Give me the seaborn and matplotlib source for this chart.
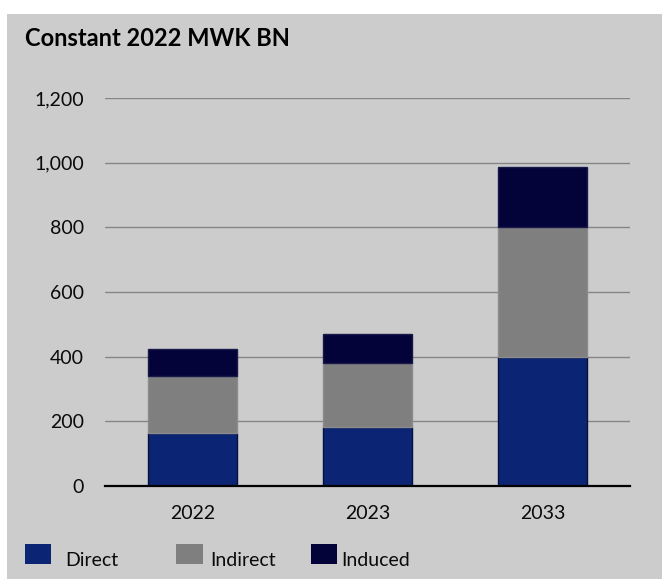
import matplotlib
matplotlib.use("Agg")
import matplotlib.pyplot as plt
import matplotlib.transforms as mtransforms
import seaborn as sns
import pandas as pd
import numpy as np
from matplotlib.patches import Rectangle, Patch

years = ["2022", "2023", "2033"]
direct = [163, 183, 399]
indirect = [177, 197, 401]
induced = [84, 91, 187]
series_names = ["Direct", "Indirect", "Induced"]
yticks = [0, 200, 400, 600, 800, 1000, 1200]
title = "Constant 2022 MWK BN"

colors = {"Direct": "#0b2473", "Indirect": "#7f7f7f", "Induced": "#03033a"}
edges = {"Direct": "#06103f", "Indirect": "#8c8c8c", "Induced": "#1a1a4a"}

sns.set_theme(style="white")
plt.rcParams["font.family"] = ["Lato", "DejaVu Sans"]

fig = plt.figure(figsize=(6.62, 5.79), dpi=100, facecolor="white")
fig.patches.append(Rectangle((7 / 662, 0), 1 - 7 / 662, 1 - 14 / 579,
                             transform=fig.transFigure, facecolor="#cccccc",
                             edgecolor="none", zorder=-10))

ax = fig.add_axes([105 / 662, 93 / 579, 525 / 662, 388 / 579])
ax.set_facecolor("none")

df = pd.DataFrame({"year": years, "Direct": direct, "Indirect": indirect, "Induced": induced})
bottoms = np.zeros(len(years))
for name in series_names:
    sns.barplot(data=df, x="year", y=name, ax=ax, color=colors[name],
                bottom=bottoms.copy(), width=0.51, edgecolor=edges[name],
                linewidth=1.0, saturation=1, zorder=3)
    bottoms = bottoms + df[name].to_numpy()

ax.set_xlim(-0.5, 2.5)
ax.set_ylim(0, 1200)
ax.set_yticks(yticks)
ax.set_yticklabels([f"{v:,}" for v in yticks], fontsize=14, color="#0a0a0a")
ax.yaxis.grid(True, color="#858585", linewidth=1.0, zorder=0)
ax.set_axisbelow(True)
for s in ["left", "right", "top"]:
    ax.spines[s].set_visible(False)
ax.spines["bottom"].set_color("black")
ax.spines["bottom"].set_linewidth(1.6)
ax.spines["bottom"].set_zorder(5)
ax.tick_params(axis="y", length=0, pad=15)
ax.tick_params(axis="x", which="major", length=0, pad=14, labelcolor="#0a0a0a")
ax.set_xticks([-0.5, 0.5, 1.5, 2.5], minor=True)
ax.tick_params(axis="x", which="minor", length=6, width=1.6, color="black", direction="out")
ax.set_xlabel("")
ax.set_ylabel("")
for lab in ax.get_xticklabels():
    lab.set_fontsize(14)

fig.text(25 / 662, 1 - 45.5 / 579, title, fontsize=17, fontweight="bold",
         ha="left", va="baseline", color="black")

leg_x = [25, 176.5, 311]
pads = [0.7, 0.37, 0.2]
shift = mtransforms.ScaledTranslation(0, -0.05, fig.dpi_scale_trans)
for name, x0, pd_ in zip(series_names, leg_x, pads):
    h = Patch(facecolor=colors[name], edgecolor="none")
    lg = fig.legend([h], [name], loc="center left",
                    bbox_to_anchor=(x0 / 662, 1 - 554 / 579),
                    frameon=False, fontsize=14, handlelength=1.35,
                    handleheight=1.25, handletextpad=pd_, borderpad=0,
                    borderaxespad=0)
    for t in lg.get_texts():
        t.set_color("#0a0a0a")
        t.set_transform(t.get_transform() + shift)

fig.savefig("out.png", dpi=100, facecolor="white")
